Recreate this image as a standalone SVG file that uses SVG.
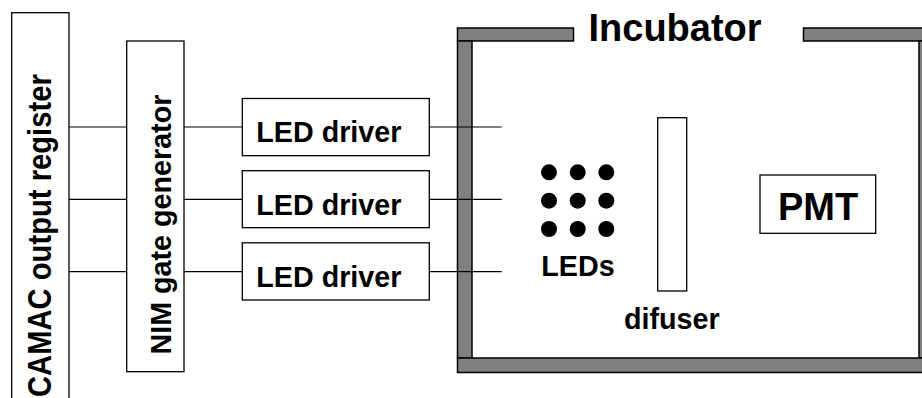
<svg xmlns="http://www.w3.org/2000/svg" width="922" height="398" viewBox="0 0 922 398">
<style>
.box{fill:#fff;stroke:#000;stroke-width:1.3}
.wall{fill:#808080;stroke:#000;stroke-width:1.5}
.wire{stroke:#000;stroke-width:1.2;fill:none}
.t{font-family:"Liberation Sans",Arial,Helvetica,sans-serif;font-weight:bold;fill:#000;font-size:28.7px}
</style>
<rect width="922" height="398" fill="#fff"/>
<g id="incubator">
<rect class="wall" x="457.5" y="28" width="116" height="13"/>
<rect class="wall" x="803.5" y="28" width="130" height="13"/>
<rect class="wall" x="457.5" y="41" width="14.5" height="317"/>
<rect class="wall" x="919" y="41" width="15" height="317"/>
<rect class="wall" x="457.5" y="358" width="476" height="14.5"/>
<text class="t" x="588.5" y="41" style="font-size:38px">Incubator</text>
</g>
<g id="camac">
<rect class="box" x="11.7" y="12.7" width="57.3" height="400"/>
<text class="t" transform="translate(50.5,397) rotate(-90) scale(1,1.12)" style="font-size:29.2px">CAMAC output register</text>
</g>
<g id="nim">
<rect class="box" x="126.7" y="41" width="57.3" height="330.7"/>
<text class="t" transform="translate(170.6,354.5) rotate(-90)">NIM gate generator</text>
</g>
<g id="driver1">
<rect class="box" x="242.3" y="98.5" width="187" height="57.2"/>
<text class="t" x="256.3" y="142.3">LED driver</text>
</g>
<g id="driver2">
<rect class="box" x="242.3" y="170.7" width="187" height="57"/>
<text class="t" x="256.3" y="214.6">LED driver</text>
</g>
<g id="driver3">
<rect class="box" x="242.3" y="242.8" width="187" height="57.2"/>
<text class="t" x="256.3" y="286.7">LED driver</text>
</g>
<g id="connectors">
<path class="wire" d="M69 127H126.7M184 127H242.3M429.3 127H501.7M69 199.3H126.7M184 199.3H242.3M429.3 199.3H501.7M69 271.7H126.7M184 271.7H242.3M429.3 271.7H501.7"/>
</g>
<g id="leds">
<circle cx="549" cy="172.3" r="8"/>
<circle cx="577.7" cy="172.3" r="8"/>
<circle cx="606.3" cy="172.3" r="8"/>
<circle cx="549" cy="200.7" r="8"/>
<circle cx="577.7" cy="200.7" r="8"/>
<circle cx="606.3" cy="200.7" r="8"/>
<circle cx="549" cy="229" r="8"/>
<circle cx="577.7" cy="229" r="8"/>
<circle cx="606.3" cy="229" r="8"/>
<text class="t" x="541.3" y="275.7">LEDs</text>
</g>
<g id="difuser">
<rect class="box" x="657.7" y="117.7" width="29" height="173.3"/>
<text class="t" x="624" y="329.3">difuser</text>
</g>
<g id="pmt">
<rect class="box" x="760" y="175" width="115.7" height="58.3"/>
<text class="t" x="818" y="220" text-anchor="middle" style="font-size:38px">PMT</text>
</g>
</svg>
